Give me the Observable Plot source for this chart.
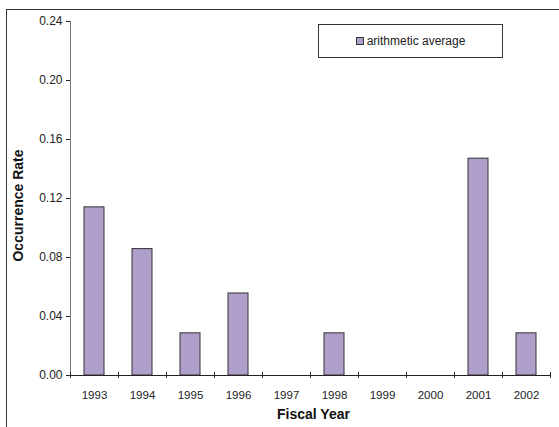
<!DOCTYPE html>
<html>
<head>
<meta charset="utf-8">
<script src="https://cdn.jsdelivr.net/npm/d3@7"></script>
<script src="https://cdn.jsdelivr.net/npm/@observablehq/plot@0.6"></script>
<style>
  body { margin: 0; background: #fff; font-family: "Liberation Sans", Arial, sans-serif; }
  #wrap { position: relative; width: 559px; height: 427px; overflow: hidden; background: #fff; }
  #frame { position: absolute; left: 6px; top: 9px; width: 600px; height: 500px; border: 1px solid #333; box-sizing: border-box; }
  #chart { position: absolute; left: 0; top: 0; }
  #legend { position: absolute; left: 318px; top: 24px; width: 185px; height: 34px; border: 1px solid #333; box-sizing: border-box; background: #fff;
            display: flex; align-items: center; justify-content: center; font-size: 12px; color: #222; }
  #legend .sw { width: 6px; height: 6px; border: 1px solid #333; background: #ae9fcb; margin-right: 3px; margin-top: -1px; }
</style>
</head>
<body>
<div id="wrap">
  <div id="frame"></div>
  <div id="chart"></div>
  <div id="legend"><span class="sw"></span><span id="legend-text"></span></div>
</div>
<script>
const years = [1993, 1994, 1995, 1996, 1997, 1998, 1999, 2000, 2001, 2002];
const values = [0.114, 0.0857, 0.0286, 0.0556, 0, 0.0286, 0, 0, 0.147, 0.0286];
const yTicks = [0, 0.04, 0.08, 0.12, 0.16, 0.20, 0.24];
const seriesName = "arithmetic average";
const xTitle = "Fiscal Year";
const yTitle = "Occurrence Rate";

const data = years.map((year, i) => ({year, value: values[i]}));
const boundaries = years.map(y => y - 0.5).concat([years[years.length - 1] + 0.5]);

document.getElementById("legend-text").textContent = seriesName;

const plot = Plot.plot({
  width: 559,
  height: 427,
  marginLeft: 70,
  marginRight: 9,
  marginTop: 21,
  marginBottom: 52,
  style: { background: "transparent", fontFamily: "'Liberation Sans', Arial, sans-serif", color: "#222", fontSize: "11.5px" },
  x: { type: "linear", domain: [boundaries[0], boundaries[boundaries.length - 1]], axis: null },
  y: { domain: [0, 0.24], axis: null },
  marks: [
    Plot.rectY(data.filter(d => d.value > 0), {
      x1: d => d.year - 0.5, x2: d => d.year + 0.5, y: "value",
      insetLeft: 14, insetRight: 14,
      fill: "#ae9fcb", stroke: "#333", strokeWidth: 1
    }),
    Plot.ruleX([boundaries[0]], { stroke: "#777" }),
    Plot.ruleY([0], { stroke: "#222" }),
    Plot.axisY({ ticks: yTicks, tickSize: 4, tickPadding: 4, tickFormat: d3.format(".2f"), label: null, fontSize: 12 }),
    Plot.axisX({ ticks: years, tickSize: 0, tickPadding: 15, tickFormat: d => String(d), label: null, fontSize: 11.5 }),
    Plot.axisX({ ticks: boundaries, tickSize: 6, dy: -3, tickFormat: () => "", label: null }),
    Plot.text([yTitle], { frameAnchor: "left", dx: -52, dy: 7, rotate: -90, textAnchor: "middle", fontWeight: "bold", fontSize: 14, fill: "#111" }),
    Plot.text([xTitle], { frameAnchor: "bottom", dx: 3, dy: 43, textAnchor: "middle", fontWeight: "bold", fontSize: 14, fill: "#111" })
  ]
});
document.getElementById("chart").appendChild(plot);
</script>
</body>
</html>
